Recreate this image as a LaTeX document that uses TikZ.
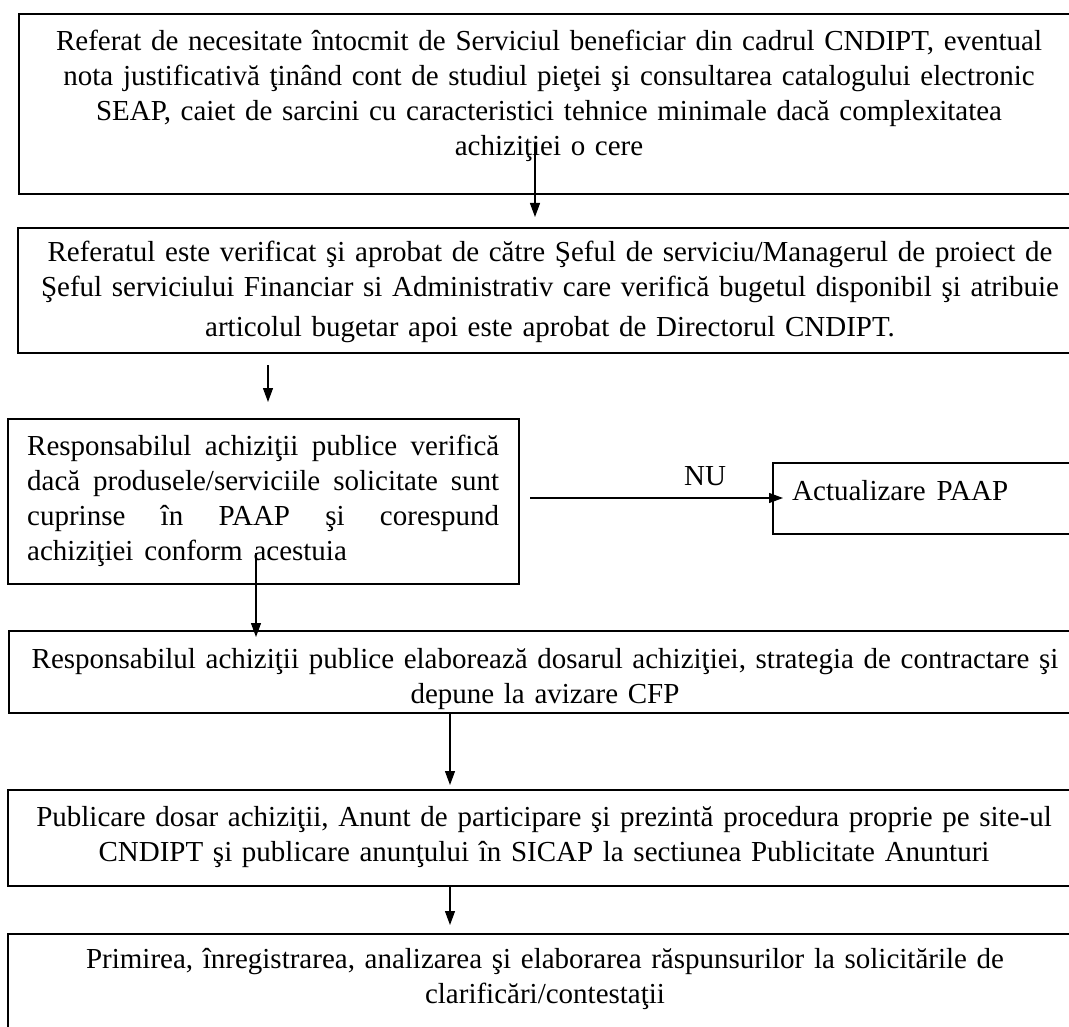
\documentclass[tikz,border=0pt]{standalone}
\usepackage{fontspec}
\setmainfont{Liberation Serif}[WordSpace=1.5]
\usetikzlibrary{arrows.meta}
\begin{document}
\begin{tikzpicture}[x=1pt,y=-1pt,
  box/.style={draw, line width=1.7pt, rectangle, anchor=north west, inner sep=0pt},
  txt/.style={anchor=north, inner sep=0pt, align=center, text width=1066pt,
    font=\fontsize{29}{35}\selectfont},
  lbl/.style={inner sep=0pt, font=\fontsize{29}{35}\selectfont},
  arr/.style={line width=1.2pt, -{Triangle[length=14pt,width=10pt]}}]
\useasboundingbox (0,0) rectangle (1069,1027);
\clip (0,0) rectangle (1069,1027);
\fill[white] (0,0) rectangle (1069,1027);

% boxes
\node[box, minimum width=1064pt, minimum height=180pt] (b1) at (18,13) {};
\node[box, minimum width=1065pt, minimum height=125pt] (b2) at (17,227) {};
\node[box, minimum width=511pt, minimum height=165pt] (b3) at (7,418) {};
\node[box, minimum width=320pt, minimum height=71pt] (bA) at (772,462) {};
\node[box, minimum width=1074pt, minimum height=82pt] (b4) at (8,630) {};
\node[box, minimum width=1075pt, minimum height=96pt] (b5) at (7,789) {};
\node[box, minimum width=1075pt, minimum height=120pt] (b6) at (7,933) {};

% texts
\node[txt] (t1) at (549,25.5) {\strut Referat de necesitate întocmit de Serviciul beneficiar din cadrul CNDIPT, eventual\\
nota justificativă ţinând cont de studiul pieţei şi consultarea catalogului electronic\\
SEAP, caiet de sarcini cu caracteristici tehnice minimale dacă complexitatea\\
achiziţiei o cere};
\node[txt] (t2) at (550,236.5) {\strut Referatul este verificat şi aprobat de către Şeful de serviciu/Managerul de proiect de\\
Şeful serviciului Financiar si Administrativ care verifică bugetul disponibil şi atribuie\\[5pt]
articolul bugetar apoi este aprobat de Directorul CNDIPT.};
\node[lbl, anchor=north west, text width=472pt, align=justify] (t3) at (27,430.5) {\noindent\strut Responsabilul achiziţii publice verifică\linebreak
dacă produsele/serviciile solicitate sunt\linebreak
cuprinse în PAAP şi corespund\linebreak
achiziţiei conform acestuia};
\node[lbl, anchor=base west] (tA) at (792,500) {Actualizare PAAP};
\node[lbl, anchor=base] (nu) at (705,485) {NU};
\node[txt] (t4) at (545,643.5) {\strut Responsabilul achiziţii publice elaborează dosarul achiziţiei, strategia de contractare şi\\
depune la avizare CFP};
\node[txt] (t5) at (544,801.5) {\strut Publicare dosar achiziţii, Anunt de participare şi prezintă procedura proprie pe site-ul\\
CNDIPT şi publicare anunţului în SICAP la sectiunea Publicitate Anunturi};
\node[txt] (t6) at (545,943.5) {\strut Primirea, înregistrarea, analizarea şi elaborarea răspunsurilor la solicitările de\\
clarificări/contestaţii};

% connector end points
\coordinate (s1) at (535,143); \coordinate (e1) at (535,217);
\coordinate (s2) at (268,365); \coordinate (e2) at (268,402);
\coordinate (sN) at (530,498); \coordinate (eN) at (783,498);
\coordinate (s3) at (256,553); \coordinate (e3) at (256,637);
\coordinate (s4) at (450,712); \coordinate (e4) at (450,785);
\coordinate (s5) at (450,885); \coordinate (e5) at (450,925);

\draw[arr] (s1) -- (e1);
\draw[arr] (s2) -- (e2);
\draw[arr] (sN) -- (eN);
\draw[arr] (s3) -- (e3);
\draw[arr] (s4) -- (e4);
\draw[arr] (s5) -- (e5);
\end{tikzpicture}
\end{document}
